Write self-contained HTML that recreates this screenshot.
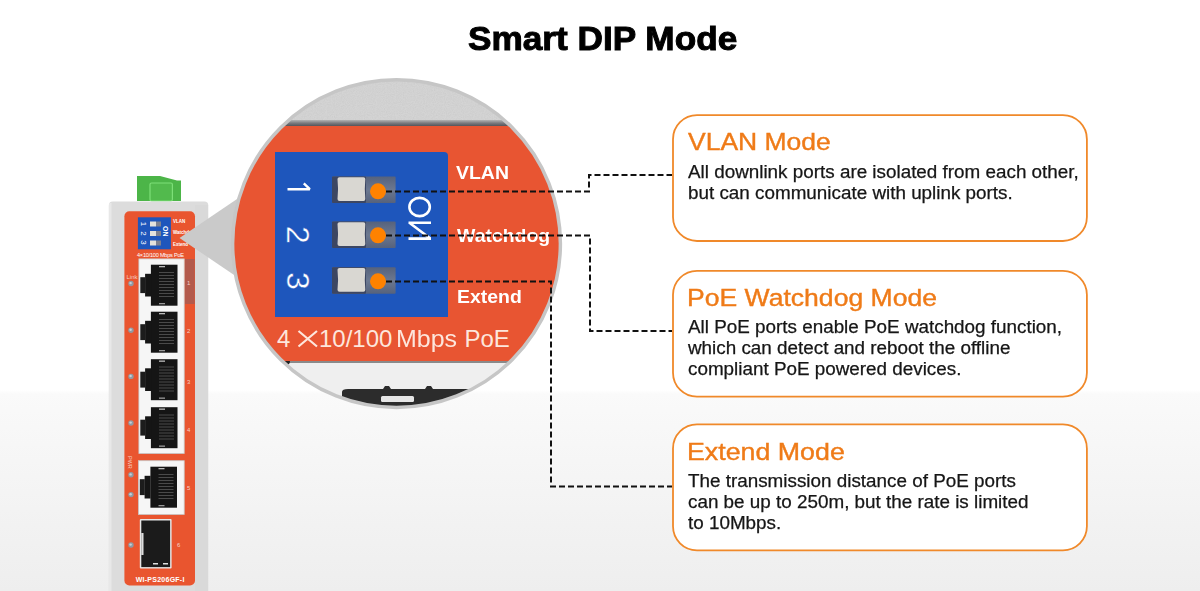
<!DOCTYPE html>
<html><head><meta charset="utf-8">
<style>
*{margin:0;padding:0;box-sizing:border-box}
html,body{width:1200px;height:591px;overflow:hidden}
body{position:relative;font-family:"Liberation Sans",sans-serif;background:linear-gradient(to bottom,#fff 0,#fff 390px,#fafafa 394px,#eeeeee 591px)}
.a{position:absolute}
.t{position:absolute;white-space:nowrap;transform-origin:0 0}
#title{left:467.6px;top:17.9px;font-size:34px;font-weight:bold;color:#000;line-height:40px;transform:scaleX(1.035);-webkit-text-stroke:1px #000}
.box{position:absolute;left:672px;width:416px;height:126px;border:2px solid #f08c2e;border-radius:26px;background:#fff}
.hd{font-size:24.5px;color:#ef7b18;line-height:28px;-webkit-text-stroke:0.4px #ef7b18}
.bd{font-size:17.5px;line-height:20.9px;color:#161616;transform:scaleX(1.077);-webkit-text-stroke:0.25px #161616}
/* circle */
#circ{left:233px;top:80px;width:327px;height:327px;border-radius:50%;overflow:hidden;background:#d4d4d4}
#inner{left:-233px;top:-80px;width:800px;height:600px}
#ring{left:230.5px;top:77.5px;width:332px;height:332px;border-radius:50%;border:4px solid #c6c6c6}
.lbl{position:absolute;color:#fff;font-weight:bold;font-size:18px;line-height:20px;white-space:nowrap;transform:scaleX(1.08);transform-origin:0 0}
</style></head><body>
<div id="title" class="t">Smart DIP Mode</div>

<!-- device -->
<svg class="a" style="left:0;top:0" width="240" height="591" viewBox="0 0 240 591">
 <defs>
  <g id="jack">
   <rect x="11.9" y="5.7" width="26.6" height="41" fill="#151515"/>
   <rect x="6.1" y="14.8" width="6" height="22.7" fill="#151515"/>
   <rect x="1.3" y="18.2" width="5" height="15.9" fill="#1c1c1c"/>
   <g stroke="#4a4a4a" stroke-width="1.2">
    <path d="M20 13.5h15M20 16.5h15M20 19.5h15M20 22.5h15M20 25.5h15M20 28.5h15M20 31.5h15M20 34.5h15M20 37.5h15"/>
   </g>
   <rect x="20" y="7" width="6" height="1.3" fill="#bbb"/>
   <rect x="20" y="44" width="6" height="1.3" fill="#999"/>
  </g>
 </defs>
 <!-- green connector -->
 <path d="M137 176 H160 L177 180.5 H181 V201 H137 Z" fill="#4cb548"/>
 <rect x="150" y="183" width="22.4" height="18" rx="1.5" fill="#52ba4d" stroke="#7ddf78" stroke-width="1.2"/>
 <!-- body -->
 <rect x="108.8" y="201.5" width="99.5" height="400" rx="4" fill="#dcdcdc"/>
 <rect x="109" y="203" width="2.5" height="400" fill="#e8e8e8"/>
 <rect x="195" y="205" width="13" height="400" fill="#d9d9d9"/>
 <!-- orange panel -->
 <rect x="124.4" y="211.3" width="70.6" height="374.2" rx="5" fill="#e9552f"/>
 <!-- dip -->
 <rect x="137.9" y="217.3" width="33" height="32" fill="#1e56bc"/>
 <g fill="#e4e2dc"><rect x="150" y="221.5" width="6" height="5"/><rect x="150" y="231" width="6" height="5"/><rect x="150" y="240.5" width="6" height="5"/></g>
 <g fill="#7d8190"><rect x="156" y="221.5" width="5" height="5"/><rect x="156" y="231" width="5" height="5"/><rect x="156" y="240.5" width="5" height="5"/></g>
 <g fill="#fff" font-family="Liberation Sans" font-size="6" font-weight="bold">
  <text transform="translate(140.5,224) rotate(90)" font-size="8" font-weight="normal" text-anchor="middle">1</text>
  <text transform="translate(140.5,233.5) rotate(90)" font-size="8" font-weight="normal" text-anchor="middle">2</text>
  <text transform="translate(140.5,242.5) rotate(90)" font-size="8" font-weight="normal" text-anchor="middle">3</text>
  <text transform="translate(162.5,226) rotate(90)" font-size="7">ON</text>
  <text x="173" y="223" font-size="4.5">VLAN</text>
  <text x="173" y="234" font-size="4.5">Watchdog</text>
  <text x="173" y="246" font-size="4.5">Extend</text>
  <text x="137" y="256.5" font-size="5.6" font-weight="normal" textLength="47">4×10/100 Mbps PoE</text>
 </g>
 <!-- port frames -->
 <rect x="138.9" y="258.9" width="45.3" height="194.6" fill="#f6f6f6" stroke="#c8c8c8" stroke-width="0.8"/>
 <rect x="185" y="259" width="9.6" height="45" fill="#b35a4c"/>
 <use href="#jack" x="139" y="259"/>
 <use href="#jack" x="139" y="306"/>
 <use href="#jack" x="139" y="353.5"/>
 <use href="#jack" x="139" y="401.5"/>
 <rect x="138.5" y="460.7" width="45.7" height="53.7" fill="#f6f6f6" stroke="#c8c8c8" stroke-width="0.8"/>
 <use href="#jack" x="138.5" y="461"/>
 <!-- sfp -->
 <rect x="139.8" y="519" width="31.8" height="49.6" rx="1" fill="#e6e6e6"/>
 <rect x="141.3" y="520.5" width="28.8" height="46.6" fill="#1b1b1b"/>
 <rect x="141.3" y="533" width="2.2" height="22" fill="#ddd"/>
 <rect x="153" y="563" width="5" height="1.5" fill="#ddd"/><rect x="163" y="563" width="5" height="1.5" fill="#ddd"/>
 <!-- leds -->
 <g fill="#8f9aa3"><circle cx="131" cy="283.5" r="2.7"/><circle cx="131" cy="330.2" r="2.7"/><circle cx="131" cy="376.4" r="2.7"/><circle cx="131" cy="423" r="2.7"/><circle cx="131" cy="474.8" r="2.7"/><circle cx="131" cy="494.6" r="2.7"/><circle cx="131" cy="545" r="2.7"/></g><g fill="#c9d0d6"><circle cx="130.6" cy="283.1" r="1.2"/><circle cx="130.6" cy="329.8" r="1.2"/><circle cx="130.6" cy="376.0" r="1.2"/><circle cx="130.6" cy="422.6" r="1.2"/><circle cx="130.6" cy="474.40000000000003" r="1.2"/><circle cx="130.6" cy="494.20000000000005" r="1.2"/><circle cx="130.6" cy="544.6" r="1.2"/></g>
 <g fill="#f5d0c4" font-family="Liberation Sans" font-size="6">
  <text x="126.5" y="279">Link</text>
  <text x="187" y="284.5">1</text><text x="187" y="333">2</text><text x="187" y="383.5">3</text><text x="187" y="432">4</text><text x="187" y="490">5</text><text x="177" y="546.5">6</text>
  <text transform="translate(128,456) rotate(90)" font-size="5.5">PWR</text>
  <text x="135.7" y="582.4" font-size="7" font-weight="bold" fill="#fff" textLength="48.7">WI-PS206GF-I</text>
 </g>
 <!-- pointer -->
 <polygon points="179.5,238 240,197 240,279" fill="#cacaca"/>
</svg>

<!-- circle magnifier -->
<div id="circ" class="a">
 <div id="inner" class="a">
  <svg class="a" style="left:0;top:0" width="600" height="130"><defs><filter id="nz" x="0" y="0" width="100%" height="100%"><feTurbulence type="fractalNoise" baseFrequency="0.9" numOctaves="2" seed="3"/><feColorMatrix type="matrix" values="0 0 0 0 0.5  0 0 0 0 0.5  0 0 0 0 0.5  0.9 0.9 0.9 0 -1.1"/></filter></defs><rect x="230" y="76" width="340" height="46" filter="url(#nz)" opacity="0.35"/></svg>
  <div class="a" style="left:200px;top:120.3px;width:400px;height:5.5px;background:linear-gradient(#b4b4b4,#7c7c80 50%,#55555b)"></div>
  <div class="a" style="left:200px;top:125.5px;width:400px;height:235.5px;background:#e85532"></div>
  <div class="a" style="left:200px;top:361px;width:400px;height:2px;background:#8a8a8a"></div>
  <div class="a" style="left:200px;top:363px;width:400px;height:60px;background:#efefef"></div>
  <div class="a" style="left:280px;top:361px;width:10px;height:4px;background:#222;border-radius:0 0 4px 4px"></div>
  <svg class="a" style="left:0;top:0" width="600" height="420">
   <path d="M342 392 Q342 389 348 389 H383 L385 386 H389 L391 389 H425 L427 386 H431 L433 389 H540 V420 H342 Z" fill="#2c2c2c"/>
   <rect x="381" y="396" width="33" height="6" rx="1.5" fill="#e6e6e6"/>
  </svg>
  <div class="a" style="left:275px;top:152px;width:173px;height:165px;background:#1e56bc;border-radius:0 4px 0 0"></div>
  <svg class="a" style="left:0;top:0" width="600" height="420">
   <defs>
    <linearGradient id="slotg" x1="0" y1="0" x2="0" y2="1"><stop offset="0" stop-color="#56627c"/><stop offset=".5" stop-color="#6c7890"/><stop offset="1" stop-color="#56627c"/></linearGradient>
    <g id="sw">
     <rect x="0" y="0" width="63.6" height="26.5" rx="1" fill="url(#slotg)"/>
     <rect x="0" y="0" width="34" height="26.5" rx="1" fill="#3c4662"/>
     <path d="M5.5 2.5 Q5.5 0.7 7.5 0.7 H31.5 Q33.3 0.7 33.3 2.5 Q32.3 12.5 33.3 22.5 Q33.3 24.4 31.5 24.4 H7.5 Q5.5 24.4 5.5 22.5 Q6.6 12.5 5.5 2.5 Z" fill="#d9d7d2"/>
    </g>
   </defs>
   <use href="#sw" x="332" y="176.5"/>
   <use href="#sw" x="332" y="221.5"/>
   <use href="#sw" x="332" y="267.3"/>
   <g fill="#fff" font-family="Liberation Sans" font-size="32" text-anchor="middle" stroke="#1e56bc" stroke-width="0.4">
    
    <text transform="translate(287,235) rotate(90)">2</text>
    <text transform="translate(287,281) rotate(90)">3</text>
   </g>
   <path d="M287.5 189.2 H309.8 L303.8 183.4" fill="none" stroke="#fff" stroke-width="2.4" stroke-linejoin="bevel"/>
   <g fill="none" stroke="#fff" stroke-width="2.6">
    <ellipse cx="419.6" cy="207" rx="10.2" ry="9.1"/>
    <path d="M408.5 222.8 H431 M410 223.2 L430 238.2 M408.5 238.6 H431"/>
   </g>
  </svg>
  <div class="lbl" style="left:456.2px;top:163.3px">VLAN</div>
  <div class="lbl" style="left:457.3px;top:226px">Watchdog</div>
  <div class="lbl" style="left:456.9px;top:286.5px">Extend</div>
  <div class="a" style="left:277px;top:325px;font-size:24px;color:#fde6dc;white-space:nowrap;line-height:28px">4</div>
  <svg class="a" style="left:0;top:0" width="600" height="420"><path d="M298.5 331 L317 346.5 M317 331 L298.5 346.5" stroke="#fde6dc" stroke-width="2.2" fill="none"/></svg>
  <div class="a" style="left:319px;top:325px;font-size:24px;color:#fde6dc;white-space:nowrap;line-height:28px">10/100</div>
  <div class="a" style="left:395.5px;top:325px;font-size:24px;color:#fde6dc;white-space:nowrap;line-height:28px;transform:scaleX(1.04);transform-origin:0 0">Mbps</div>
  <div class="a" style="left:464.5px;top:325px;font-size:24px;color:#fde6dc;white-space:nowrap;line-height:28px">PoE</div>
 </div>
</div>
<svg class="a" style="left:0;top:0" width="600" height="420"><circle cx="396.5" cy="243.6" r="163.9" fill="none" stroke="#c6c6c6" stroke-width="3.5"/></svg>

<!-- boxes -->
<svg class="a" style="left:0;top:0" width="1200" height="591">
 <g fill="#fff" stroke="#f0892a" stroke-width="1.8">
  <rect x="673" y="115.2" width="413.9" height="125.8" rx="24" ry="24"/>
  <rect x="673" y="270.8" width="413.9" height="125.9" rx="24" ry="24"/>
  <rect x="673" y="424.4" width="413.9" height="125.9" rx="24" ry="24"/>
 </g>
</svg>
<div class="t hd" style="left:688.3px;top:128.1px;transform:scaleX(1.081)">VLAN Mode</div>
<div class="t bd" style="left:688px;top:162.1px">All downlink ports are isolated from each other,<br>but can communicate with uplink ports.</div>
<div class="t hd" style="left:686.9px;top:283.7px;transform:scaleX(1.084)">PoE Watchdog Mode</div>
<div class="t bd" style="left:688px;top:317.1px">All PoE ports enable PoE watchdog function,<br>which can detect and reboot the offline<br>compliant PoE powered devices.</div>
<div class="t hd" style="left:686.9px;top:438px;transform:scaleX(1.093)">Extend Mode</div>
<div class="t bd" style="left:688px;top:471.1px">The transmission distance of PoE ports<br>can be up to 250m, but the rate is limited<br>to 10Mbps.</div>

<!-- dashed connectors -->
<svg class="a" style="left:0;top:0" width="1200" height="591">
 <g fill="none" stroke="#111" stroke-width="2" stroke-dasharray="6 3">
  <path d="M386 191.5 H589 V175 H672"/>
  <path d="M386 235.5 H590 V331 H672"/>
  <path d="M386 281.5 H551 V486.5 H672"/>
 </g>
 <g fill="#ff8200"><circle cx="378" cy="191.3" r="8"/><circle cx="378" cy="235.3" r="8"/><circle cx="378" cy="281.3" r="8"/></g>
</svg>
</body></html>
